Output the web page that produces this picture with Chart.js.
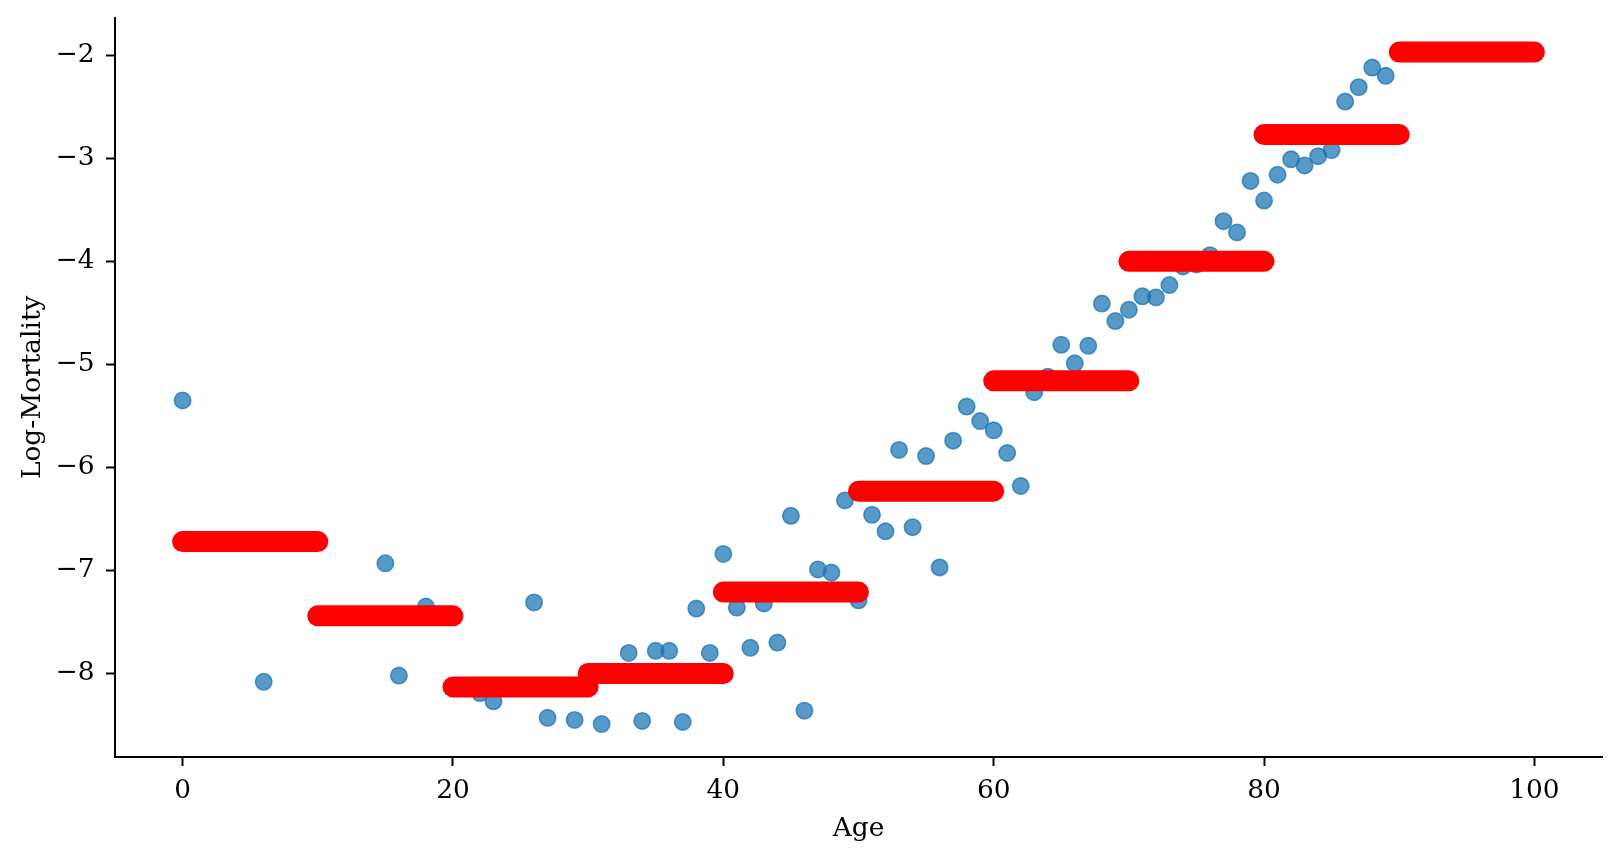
<!DOCTYPE html>
<html>
<head>
<meta charset="utf-8">
<script src="https://cdn.jsdelivr.net/npm/chart.js@4.4.1/dist/chart.umd.min.js"></script>
<style>
  html, body { margin: 0; padding: 0; background: #ffffff; }
  #wrap { width: 1621px; height: 860px; }
</style>
</head>
<body>
<div id="wrap"><canvas id="c" width="1621" height="860"></canvas></div>
<script>
// Observed log-mortality by single year of age
const ages = [0, 6, 15, 16, 18, 22, 23, 26, 27, 29, 31, 33, 34, 35, 36, 37, 38, 39,
  40, 41, 42, 43, 44, 45, 46, 47, 48, 49, 50, 51, 52, 53, 54, 55, 56, 57, 58, 59,
  60, 61, 62, 63, 64, 65, 66, 67, 68, 69, 70, 71, 72, 73, 74, 75, 76, 77, 78, 79,
  80, 81, 82, 83, 84, 85, 86, 87, 88, 89];
const logMortality = [-5.35, -8.08, -6.93, -8.02, -7.35, -8.19, -8.27, -7.31, -8.43, -8.45, -8.49, -7.80, -8.46, -7.78, -7.78, -8.47, -7.37, -7.80,
  -6.84, -7.36, -7.75, -7.32, -7.70, -6.47, -8.36, -6.99, -7.02, -6.32, -7.29, -6.46, -6.62, -5.83, -6.58, -5.89, -6.97, -5.74, -5.41, -5.55,
  -5.64, -5.86, -6.18, -5.27, -5.12, -4.81, -4.99, -4.82, -4.41, -4.58, -4.47, -4.34, -4.35, -4.23, -4.05, -4.03, -3.94, -3.61, -3.72, -3.22,
  -3.41, -3.16, -3.01, -3.07, -2.98, -2.92, -2.45, -2.31, -2.12, -2.20];

// Piecewise-constant fit per 10-year age band
const bandStart = [0, 10, 20, 30, 40, 50, 60, 70, 80, 90];
const bandEnd = [10, 20, 30, 40, 50, 60, 70, 80, 90, 100];
const bandValue = [-6.72, -7.44, -8.13, -8.00, -7.21, -6.23, -5.16, -4.00, -2.77, -1.97];

// Tick labels
const xTicks = [0, 20, 40, 60, 80, 100];
const yTicks = [-8, -7, -6, -5, -4, -3, -2];

const fmt = v => (v < 0 ? '\u2212' + Math.abs(v) : String(v));

Chart.defaults.font.family = "'DejaVu Serif', serif";
Chart.defaults.color = '#000000';

const datasets = [{
  type: 'scatter',
  label: 'Observed',
  data: ages.map((a, i) => ({ x: a, y: logMortality[i] })),
  backgroundColor: 'rgba(31,119,180,0.75)',
  borderColor: 'rgba(31,119,180,0.75)',
  borderWidth: 1.6,
  pointRadius: 8.2,
  pointHoverRadius: 8.2,
  order: 2,
  clip: false
}];
bandStart.forEach((s, i) => {
  datasets.push({
    type: 'line',
    label: 'Band ' + s,
    data: [{ x: s, y: bandValue[i] }, { x: bandEnd[i], y: bandValue[i] }],
    borderColor: '#ff0000',
    borderWidth: 21,
    borderCapStyle: 'round',
    pointRadius: 0,
    pointHoverRadius: 0,
    fill: false,
    order: 1,
    clip: false
  });
});

const FS = 26.4;

new Chart(document.getElementById('c'), {
  type: 'scatter',
  data: { datasets },
  options: {
    responsive: false,
    animation: false,
    devicePixelRatio: 1,
    layout: { padding: { left: 0, right: 19, top: 17.6, bottom: 0 } },
    plugins: { legend: { display: false }, tooltip: { enabled: false } },
    scales: {
      x: {
        type: 'linear',
        min: -5, max: 105,
        afterBuildTicks: s => { s.ticks = xTicks.map(v => ({ value: v })); },
        afterFit: s => { s.height = 103; s.paddingLeft = 0; s.paddingRight = 0; },
        ticks: { callback: v => fmt(v), font: { size: FS }, padding: 9.2, maxRotation: 0, autoSkip: false },
        grid: { drawOnChartArea: false, drawTicks: true, tickLength: 9, tickWidth: 2, tickColor: '#000' },
        border: { display: true, color: '#000', width: 2 },
        title: { display: true, text: 'Age', font: { size: FS }, padding: { top: 0, bottom: 15.2 } }
      },
      y: {
        type: 'linear',
        min: -8.81, max: -1.635,
        afterBuildTicks: s => { s.ticks = yTicks.map(v => ({ value: v })); },
        afterFit: s => { s.width = 115; s.paddingTop = 0; s.paddingBottom = 0; },
        ticks: { callback: v => fmt(v), font: { size: FS }, padding: 11.5, autoSkip: false },
        grid: { drawOnChartArea: false, drawTicks: true, tickLength: 9, tickWidth: 2, tickColor: '#000' },
        border: { display: true, color: '#000', width: 2 },
        title: { display: true, text: 'Log-Mortality', font: { size: FS }, padding: { top: 17.2, bottom: 0 } }
      }
    }
  }
});
</script>
</body>
</html>
